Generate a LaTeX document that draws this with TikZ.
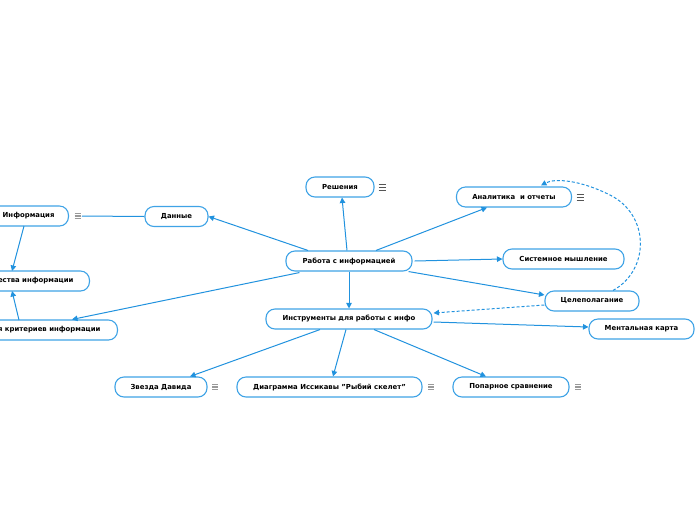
\documentclass[tikz,border=0pt]{standalone}
\usepackage{fontspec}
\setmainfont{DejaVu Sans}
\usetikzlibrary{arrows.meta,calc}
\definecolor{nodeblue}{HTML}{3FA3E6}
\definecolor{edgeblue}{HTML}{2192DE}
\definecolor{icongray}{HTML}{9A9A9A}
\definecolor{icondark}{HTML}{555555}
\tikzset{
  topic/.style={draw=nodeblue, line width=1.1pt, fill=white, rounded corners=9pt,
    minimum height=20pt, inner sep=0pt, font=\fontsize{6.9}{8}\selectfont\bfseries, text=black},
  link/.style={draw=edgeblue, line width=1pt, -{Triangle[length=5.5pt,width=5.5pt]}},
  plainlink/.style={draw=edgeblue, line width=1pt},
  dlink/.style={draw=edgeblue, line width=1pt, dash pattern=on 3pt off 2pt, -{Triangle[length=5.5pt,width=5.5pt]}},
  darkicon/.style={draw=icondark, line width=0.6pt},
  grayicon/.style={draw=icongray, line width=1.3pt},
}
\begin{document}
\begin{tikzpicture}[x=1pt,y=-1pt]
\path[use as bounding box] (0,0) rectangle (696,520);
\clip (0,0) rectangle (696,520);
% nodes
\node[topic, minimum width=126pt] (rab) at (349,261) {Работа с информацией};
\node[topic, minimum width=68pt] (res) at (340,187) {Решения};
\node[topic, minimum width=115pt] (ana) at (514,197) {Аналитика\ \ и отчеты};
\node[topic, minimum width=63pt] (dan) at (176.5,216.5) {Данные};
\node[topic, inner xsep=14pt, anchor=east] (inf) at (69,216) {Информация};
\node[topic, inner xsep=16pt, anchor=east] (kach) at (90,281) {Качества информации};
\node[topic, inner xsep=17pt, anchor=east] (krit) at (118,330) {Классификация критериев информации};
\node[topic, minimum width=121pt] (sys) at (563.5,259) {Системное мышление};
\node[topic, minimum width=94pt] (cel) at (592,301) {Целеполагание};
\node[topic, minimum width=166pt] (ins) at (349,319) {Инструменты для работы с инфо};
\node[topic, minimum width=105pt] (men) at (641.5,329) {Ментальная карта};
\node[topic, minimum width=92pt] (zv) at (161,387) {Звезда Давида};
\node[topic, minimum width=185pt] (dia) at (329.5,387) {Диаграмма Иссикавы "Рыбий скелет"};
\node[topic, minimum width=116pt] (pop) at (511,387) {Попарное сравнение};
% icons
\foreach \x/\y in {382/187, 580/197}{
  \draw[darkicon] (\x-3.5,\y-3) -- (\x+3.5,\y-3) (\x-3.5,\y) -- (\x+3.5,\y) (\x-3.5,\y+3) -- (\x+3.5,\y+3);
}
\foreach \x/\y in {77.5/216, 215/387, 431/387, 578/387}{
  \draw[grayicon] (\x-3,\y-2.5) -- (\x+3,\y-2.5) (\x-3,\y) -- (\x+3,\y) (\x-3,\y+2.5) -- (\x+3,\y+2.5);
}
\coordinate (infic) at (82,216);
\coordinate (infs) at (24,226);
\coordinate (kachn) at (12,271);
\coordinate (kachs) at (12,291);
\coordinate (kritn) at (19,320);
% connectors
\draw[link] ($(rab.north)+(-2,0)$) -- ($(res.south)+(2,0)$);
\draw[link] ($(rab.north)+(27,0)$) -- ($(ana.south)+(-27,0)$);
\draw[link] ($(rab.north)+(-41,0)$) -- (dan.east);
\draw[link] ($(rab.east)+(2,0)$) -- (sys.west);
\draw[link] ($(rab.south east)+(-4,0)$) -- ($(cel.west)+(0,-6)$);
\draw[link] (rab.south) -- (ins.north);
\draw[link] ($(rab.south west)+(14,1)$) -- ($(krit.north east)+(-46,0)$);
\draw[plainlink] (dan.west) -- (infic);
\draw[link] (infs) -- (kachn);
\draw[link] (kritn) -- (kachs);
\draw[link] ($(ins.east)+(1,3)$) -- ($(men.west)+(0,-2)$);
\draw[link] ($(ins.south)+(-29,0)$) -- ($(zv.north)+(29,0)$);
\draw[link] ($(ins.south)+(-3,0)$) -- ($(dia.north)+(3.5,0)$);
\draw[link] ($(ins.south)+(25,0)$) -- ($(pop.north)+(-25,0)$);
\draw[dlink] ($(cel.west)+(0,4)$) -- ($(ins.east)+(1,-6)$);
\draw[dlink] ($(cel.north)+(21,0)$) .. controls (650,270) and (650,215) .. (610,195)
  .. controls (580,180) and (555,178) .. ($(ana.north)+(27,-1)$);
\end{tikzpicture}
\end{document}
